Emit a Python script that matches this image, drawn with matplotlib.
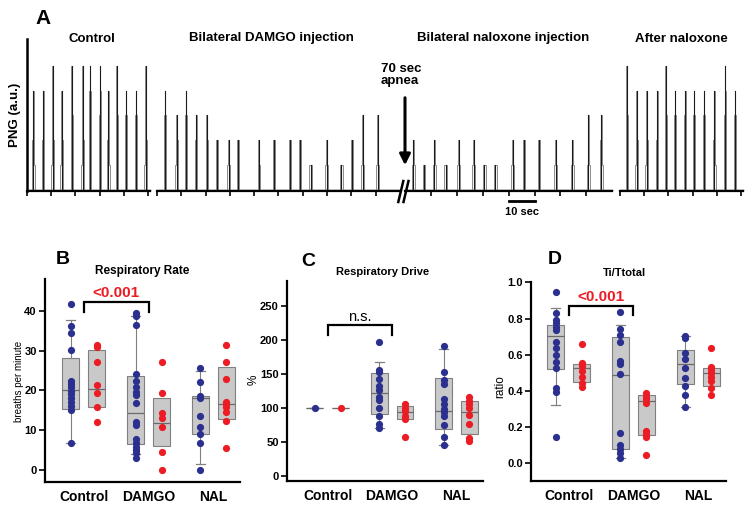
import matplotlib
matplotlib.use("Agg")
import matplotlib.pyplot as plt
from matplotlib.lines import Line2D

plt.rcParams['font.family'] = ['Liberation Sans', 'DejaVu Sans']

W, H = 751, 509

# ---------------- Panel A data (burst times in s, amplitude in steps) ----------------
ctrl_t = [2.6, 6.7, 10.6, 14.3, 18.5, 23.0, 26.0, 30.2, 33.6, 37.1, 40.9, 45.0, 49.0]
ctrl_a = [4, 4, 5, 4, 5, 5, 5, 5, 4, 5, 4, 4, 5]
damgo_t = [3.3, 8.1, 11.9, 16.1, 20.5, 24.7, 29.5, 33.3, 41.9, 48.1, 54.7, 58.8,
           63.2, 69.8, 75.9, 80.2, 84.6, 90.8]
damgo_a = [4, 3, 4, 3, 3, 2, 2, 2, 2, 2, 2, 2, 1, 2, 1, 2, 3, 3]
nalox_t = [3.2, 7.4, 11.3, 15.7, 20.7, 26.5, 30.6, 34.9, 41.5, 46.0, 51.8, 58.2,
           64.6, 70.8, 75.8]
nalox_a = [2, 1, 2, 1, 2, 2, 1, 1, 2, 2, 2, 2, 2, 3, 3]
after_t = [2.8, 6.9, 11.0, 15.4, 18.9, 22.7, 26.9, 30.6, 34.7, 39.0, 43.4, 47.5]
after_a = [5, 4, 4, 4, 5, 4, 4, 4, 4, 4, 5, 4]
seg_titles = ["Control", "Bilateral DAMGO injection",
              "Bilateral naloxone injection", "After naloxone"]

# ---------------- Panels B-D data ----------------
groups = ["Control", "DAMGO", "NAL"]

rate_blue = [
    [41.8, 36.2, 34.5, 30.2, 22.2, 21.5, 20.7, 19.8, 19.0, 18.0, 17.1, 16.0, 15.0, 6.6],
    [39.5, 38.7, 36.5, 24.0, 22.2, 20.9, 19.5, 18.8, 16.7, 12.1, 11.3, 7.6, 6.6, 5.8,
     5.0, 4.1, 2.9],
    [25.5, 22.0, 18.6, 18.0, 13.6, 10.7, 9.0, 6.6, 0.0],
]
rate_red = [
    [31.5, 30.9, 27.1, 21.2, 19.4, 15.9, 11.9],
    [27.1, 19.4, 14.2, 12.9, 10.8, 4.5, 0.0],
    [31.4, 27.2, 22.8, 17.1, 16.5, 15.7, 14.6, 12.3, 5.5],
]
# box stats: q1, median, q3, whisker low, whisker high
rate_box_blue = [(15.3, 20.0, 28.1, 6.6, 37.7), (6.4, 14.2, 23.6, 3.9, 38.6),
                 (9.0, 18.0, 18.5, 1.4, 24.9)]
rate_box_red = [(15.7, 20.4, 30.2), (6.0, 11.7, 18.0), (12.8, 16.5, 25.9)]

drive_blue = [
    [100],
    [197, 157, 153, 143, 133, 127, 117, 112, 101, 88, 76, 71],
    [192, 153, 142, 136, 113, 106, 99, 94, 89, 75, 58, 46],
]
drive_red = [
    [100],
    [106, 101, 96, 89, 84, 57],
    [116, 111, 106, 100, 90, 76, 56, 51],
]
drive_box_blue = [(100, 100, 100, 100, 100), (91, 123, 151.5, 71.3, 168),
                  (69, 96, 144, 46, 188)]
drive_box_red = [(100, 100, 100), (84, 94, 103), (62, 94, 111)]

ti_blue = [
    [0.948, 0.832, 0.792, 0.773, 0.755, 0.737, 0.672, 0.635, 0.598, 0.561, 0.525,
     0.418, 0.396, 0.144],
    [0.838, 0.740, 0.709, 0.668, 0.567, 0.549, 0.492, 0.169, 0.101, 0.077, 0.055, 0.028],
    [0.705, 0.690, 0.608, 0.575, 0.525, 0.470, 0.427, 0.377, 0.313],
]
ti_red = [
    [0.661, 0.556, 0.538, 0.510, 0.479, 0.445, 0.423],
    [0.387, 0.368, 0.354, 0.331, 0.178, 0.160, 0.144, 0.046],
    [0.635, 0.530, 0.515, 0.497, 0.479, 0.456, 0.414, 0.377],
]
ti_box_blue = [(0.523, 0.705, 0.764, 0.322, 0.860), (0.077, 0.488, 0.696, 0.03, 0.764),
               (0.44, 0.549, 0.626, 0.313, 0.705)]
ti_box_red = [(0.447, 0.525, 0.547), (0.156, 0.346, 0.377), (0.427, 0.497, 0.525)]

BLUE = '#2b2f8e'
RED = '#ec1c24'
BOXFACE = '#c9c9c9'
BOXEDGE = '#808080'

fig = plt.figure(figsize=(W / 100, H / 100), dpi=100)


def fx(x):
    return x / W


def fy(y):
    return 1 - y / H


def add_ax(x0, y0, x1, y1):
    return fig.add_axes([fx(x0), fy(y1), (x1 - x0) / W, (y1 - y0) / H])


# ---------------- Panel A ----------------
def draw_bursts(ax, times, amps):
    for t, L in zip(times, amps):
        xs, ys = [], []
        for k in range(L):
            hw = 0.45 * (L - k) / L + 0.05
            xs += [t - hw, t - hw]
            ys += [k, k + 1]
        xs.append(t)
        ys.append(L)
        for k in reversed(range(L)):
            hw = 0.45 * (L - k) / L + 0.05
            xs += [t + hw, t + hw]
            ys += [k + 1, k]
        ax.plot(xs, ys, color='0.55', lw=0.7, solid_joinstyle='miter')
        ax.plot([t, t], [0, L], color='0.1', lw=0.8)


def setup_trace_ax(ax, xmax, ticks, left_spine=False):
    ax.set_xlim(0, xmax)
    ax.set_ylim(-0.05, 6.08)
    for s in ['top', 'right']:
        ax.spines[s].set_visible(False)
    ax.spines['left'].set_visible(left_spine)
    ax.spines['left'].set_linewidth(1.8)
    ax.spines['bottom'].set_linewidth(1.6)
    ax.set_yticks([])
    ax.set_xticks(ticks)
    ax.set_xticklabels([])
    ax.tick_params(axis='x', direction='out', length=3.5, width=1.2)
    ax.plot([0, xmax], [0, 0], color='0.1', lw=1.0, clip_on=False)
    ax.patch.set_alpha(0)


ax1 = add_ax(27, 39, 150, 191)
setup_trace_ax(ax1, 50.8, [0, 10, 20, 30, 40, 50], left_spine=True)
draw_bursts(ax1, ctrl_t, ctrl_a)

ax2 = add_ax(157, 39, 399, 191)
setup_trace_ax(ax2, 99.6, list(range(0, 100, 10)))
draw_bursts(ax2, damgo_t, damgo_a)

ax3 = add_ax(405, 39, 612, 191)
setup_trace_ax(ax3, 79.9, list(range(10, 80, 10)))
draw_bursts(ax3, nalox_t, nalox_a)
ax3.plot([40, 50], [-0.44, -0.44], color='k', lw=2.0, clip_on=False)
ax3.text(45, -0.9, "10 sec", ha='center', va='center', fontsize=8, fontweight='bold')

ax4 = add_ax(620, 39, 743, 191)
setup_trace_ax(ax4, 50.8, [0, 10, 20, 30, 40, 50])
draw_bursts(ax4, after_t, after_a)

# break marks
for (xa, xb) in [(398.3, 403.3), (403.5, 408.5)]:
    fig.add_artist(Line2D([fx(xa), fx(xb)], [fy(202), fy(181)], color='k', lw=1.8))

# arrow
fig.add_artist(matplotlib.patches.FancyArrowPatch(
    (fx(405), fy(95)), (fx(405), fy(168)), transform=fig.transFigure,
    arrowstyle='-|>', mutation_scale=16, lw=2.2, color='k'))

fig.text(fx(381), fy(75), "70 sec\napnea", ha='left', va='center', fontsize=9.5,
         fontweight='bold', linespacing=1.05)

for cx, title in zip([91.7, 271.7, 503.3, 681.7], seg_titles):
    fig.text(fx(cx), fy(38.5), title, ha='center', va='center', fontsize=9.5,
             fontweight='bold')

fig.text(fx(43), fy(18), "A", ha='center', va='center', fontsize=15, fontweight='bold')
fig.text(fx(15), fy(115), "PNG (a.u.)", ha='center', va='center', fontsize=9.5,
         fontweight='bold', rotation=90)


# ---------------- Panels B-D ----------------
def box_panel(ax, blue, red, box_blue, box_red, ylim, yticks, fmt):
    pos = list(range(len(groups)))
    off = 0.2
    stats_b = [dict(q1=q1, med=m, q3=q3, whislo=lo, whishi=hi, fliers=[])
               for (q1, m, q3, lo, hi) in box_blue]
    stats_r = [dict(q1=q1, med=m, q3=q3, whislo=q1, whishi=q3, fliers=[])
               for (q1, m, q3) in box_red]
    common = dict(widths=0.26, patch_artist=True, manage_ticks=False,
                  boxprops=dict(facecolor=BOXFACE, edgecolor=BOXEDGE, lw=0.8),
                  medianprops=dict(color='#6a6a6a', lw=0.9),
                  whiskerprops=dict(color=BOXEDGE, lw=0.8),
                  capprops=dict(color=BOXEDGE, lw=0.9), showfliers=False)
    ax.bxp(stats_b, positions=[p - off for p in pos], capwidths=0.14, **common)
    ax.bxp(stats_r, positions=[p + off for p in pos], showcaps=False, **common)
    for p, vals in zip(pos, blue):
        ax.plot([p - off] * len(vals), vals, 'o', color=BLUE, ms=5.2, mew=0, zorder=5,
                clip_on=False)
    for p, vals in zip(pos, red):
        ax.plot([p + off] * len(vals), vals, 'o', color=RED, ms=5.2, mew=0, zorder=5,
                clip_on=False)
    ax.set_ylim(*ylim)
    ax.set_yticks(yticks)
    ax.set_yticklabels([fmt.format(v) for v in yticks], fontweight='bold', fontsize=8)
    ax.set_xticks(pos)
    ax.set_xticklabels(groups, fontweight='bold', fontsize=10)
    ax.tick_params(axis='x', length=0, pad=6)
    ax.tick_params(axis='y', length=4, width=1.2, pad=2)
    for s in ['top', 'right']:
        ax.spines[s].set_visible(False)
    for s in ['left', 'bottom']:
        ax.spines[s].set_linewidth(1.6)
    ax.patch.set_alpha(0)


def bracket(ax, y0, y1, label, color, ty, fontsize=11, weight='bold'):
    ax.plot([0, 0, 1, 1], [y0, y1, y1, y0], color='k', lw=1.6, clip_on=False,
            solid_joinstyle='miter')
    ax.text(0.5, ty, label, ha='center', va='center', color=color, fontsize=fontsize,
            fontweight=weight)


axB = add_ax(45, 279, 240, 482)
box_panel(axB, rate_blue, rate_red, rate_box_blue, rate_box_red, (-3.1, 48.0),
          [0, 10, 20, 30, 40], "{:g}")
axB.set_xlim(-0.6, 2.41)
bracket(axB, 39.8, 42.1, "<0.001", RED, 44.6)
fig.text(fx(19), fy(381), "breaths per minute", rotation=90, ha='center', va='center',
         fontsize=7)
fig.text(fx(63), fy(260), "B", ha='center', va='center', fontsize=14, fontweight='bold')
fig.text(fx(142), fy(271), "Respiratory Rate", ha='center', va='center', fontsize=8.5,
         fontweight='bold')

axC = add_ax(287, 281, 483, 481)
box_panel(axC, drive_blue, drive_red, drive_box_blue, drive_box_red, (-7.4, 287.6),
          [0, 50, 100, 150, 200, 250], "{:g}")
axC.set_xlim(-0.63, 2.41)
bracket(axC, 208, 222.7, "n.s.", 'k', 234, fontsize=10.5, weight='normal')
fig.text(fx(254), fy(380), "%", rotation=90, ha='center', va='center', fontsize=8.5)
fig.text(fx(308), fy(262), "C", ha='center', va='center', fontsize=14, fontweight='bold')
fig.text(fx(383), fy(272), "Respiratory Drive", ha='center', va='center', fontsize=8,
         fontweight='bold')

axD = add_ax(531, 282, 726, 481)
box_panel(axD, ti_blue, ti_red, ti_box_blue, ti_box_red, (-0.098, 1.002),
          [0.0, 0.2, 0.4, 0.6, 0.8, 1.0], "{:.1f}")
axD.set_xlim(-0.58, 2.43)
bracket(axD, 0.819, 0.869, "<0.001", RED, 0.92)
fig.text(fx(500), fy(387), "ratio", rotation=90, ha='center', va='center', fontsize=8.5)
fig.text(fx(555), fy(260), "D", ha='center', va='center', fontsize=14, fontweight='bold')
fig.text(fx(624), fy(273), "Ti/Ttotal", ha='center', va='center', fontsize=8,
         fontweight='bold')

fig.savefig("out.png", dpi=100)
